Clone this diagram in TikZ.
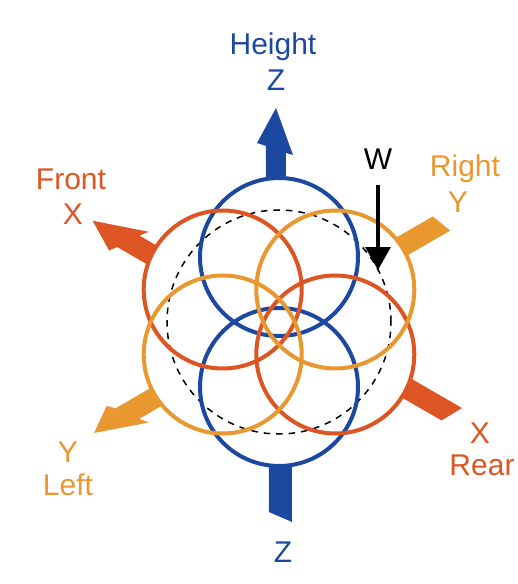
\documentclass[tikz,border=0pt]{standalone}
\usepackage{fontspec}
\setmainfont{Liberation Sans}
\usetikzlibrary{arrows.meta}
\definecolor{zblue}{HTML}{1C48A0}
\definecolor{xred}{HTML}{DC5523}
\definecolor{yorange}{HTML}{E8982F}
\tikzset{
    lbl/.style={anchor=base, inner sep=3pt, font=\fontsize{30}{34}\selectfont},
    ring/.style={line width=4pt},
    warrow/.style={line width=3.5pt, -{Triangle[length=23pt, width=25pt]}}
}
\begin{document}
\begin{tikzpicture}[x=1pt, y=1pt]
    \useasboundingbox (-279,-262) rectangle (239,322);
    % thick axis arrows (behind the rings)
    \fill[zblue] (-13,135) -- (-13,176) -- (-22,179) -- (-3,214) -- (14,167) -- (7,169) -- (7,135) -- cycle;
    \fill[zblue] (-10,-135) -- (-10,-190) -- (13,-200) -- (13,-135) -- cycle;
    \begin{scope}[rotate=150]
        \fill[xred] (130,-5) -- (164,-5) -- (158,-13) -- (212,5.5) -- (183,23) -- (177.6,16) -- (130,16) -- cycle;
    \end{scope}
    \begin{scope}[rotate=-30]
        \fill[xred] (135,17) -- (201.5,17) -- (190,-4) -- (135,-4) -- cycle;
    \end{scope}
    \begin{scope}[rotate=210]
        \fill[yorange] (130,-7) -- (185,-7) -- (191,-13.5) -- (215.7,3.6) -- (163,22) -- (169.3,14) -- (130,14) -- cycle;
    \end{scope}
    \begin{scope}[rotate=30]
        \fill[yorange] (135,14.5) -- (186,14.5) -- (194,-6.5) -- (135,-6.5) -- cycle;
    \end{scope}
    % rings
    \foreach \a in {90, 270, 150, -30, 30, 210} {
        \fill[white] (\a:65) circle (79);
    }
    \draw[black, line width=1.5pt, dash pattern=on 6.5pt off 6pt] (0,0) circle (112);
    \foreach \a/\c in {90/zblue, 270/zblue, 150/xred, -30/xred, 30/yorange, 210/yorange} {
        \draw[ring, \c] (\a:65) circle (79);
    }
    % labels
    \node[lbl, zblue] (height) at (-6,267) {Height};
    \node[lbl, zblue] (ztop) at (-3,231) {Z};
    \node[lbl, zblue] (zbot) at (4,-240) {Z};
    \node[lbl, xred] (front) at (-208,132) {Front};
    \node[lbl, xred] (xfront) at (-206,97) {X};
    \node[lbl, xred] (xrear) at (201,-121) {X};
    \node[lbl, xred] (rear) at (203,-153) {Rear};
    \node[lbl, yorange] (right) at (186,145) {Right};
    \node[lbl, yorange] (yright) at (179,110) {Y};
    \node[lbl, yorange] (yleft) at (-211,-140) {Y};
    \node[lbl, yorange] (left) at (-211,-173) {Left};
    % load W
    \node[lbl] (wlbl) at (99,152) {W};
    \coordinate (wtip) at (99,52);
    \draw[warrow, shorten <=12pt] (wlbl) -- (wtip);
\end{tikzpicture}
\end{document}
